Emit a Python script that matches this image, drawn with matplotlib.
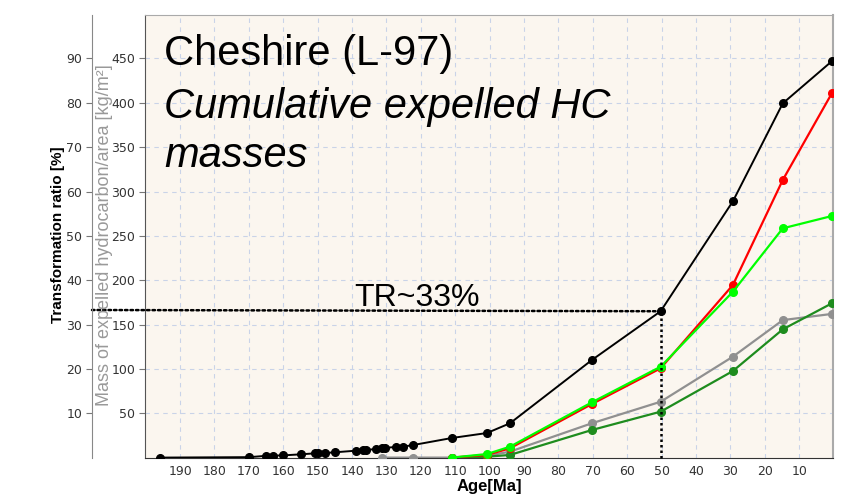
import numpy as np
import matplotlib.pyplot as plt

# ages [Ma] and cumulative expelled masses [kg/m2]
age_total = [195.8, 169.9, 165.0, 162.9, 160.0, 154.9, 150.8, 149.8, 147.8,
             144.9, 138.9, 136.7, 135.9, 133.0, 131.4, 130.4, 127.2, 125.1,
             122.2, 111.0, 100.8, 94.1, 70.3, 50.3, 29.3, 14.8, 0.5]
mass_total = [0.0, 0.5, 2.0, 2.2, 2.5, 3.7, 4.8, 4.9, 5.2,
              6.0, 7.8, 8.5, 8.6, 9.7, 10.5, 11.0, 12.0, 12.4,
              14.2, 22.1, 27.7, 38.7, 110.0, 165.0, 289.0, 399.4, 447.0]

age_gray = [131.4, 122.2, 111.0, 100.8, 94.1, 70.3, 50.3, 29.3, 14.8, 0.5]
mass_gray = [0, 0, 0, 2.0, 6.7, 38.7, 63.0, 113.8, 155.0, 162.0]

age_comp = [111.0, 100.8, 94.1, 70.3, 50.3, 29.3, 14.8, 0.5]
mass_red = [0, 3.0, 10.5, 60.4, 100.7, 194.6, 313.0, 411.0]
mass_lime = [0, 4.0, 12.3, 62.3, 102.5, 187.0, 258.5, 272.4]
mass_dgreen = [0, 1.0, 3.0, 31.1, 51.8, 97.6, 144.6, 174.0]

tr_age = 50.3
tr_mass = 165.0

fig = plt.figure(figsize=(8.57, 5.0), dpi=100)
ax = fig.add_axes([145/857, 1-457.6/500, 688/857, 442.6/500])
ax.set_facecolor("#FBF6EF")

ax.set_xlim(200.2, 0.2)
ax.set_ylim(0, 499)
ax.set_xticks(np.arange(10, 200, 10))
ax.set_yticks(np.arange(50, 500, 50))
ax.grid(True, color="#C9D3E8", linestyle=(0, (4, 4)), linewidth=0.8)
ax.set_axisbelow(True)
ax.tick_params(axis="x", length=0, pad=5, labelsize=9, labelcolor="#333333")
ax.tick_params(axis="y", length=4, width=0.8, color="#777777", pad=3,
               labelsize=9, labelcolor="#333333")
ax.spines["left"].set_color("#555555")
ax.spines["bottom"].set_color("#333333")
ax.spines["top"].set_color("#AAAAAA")
ax.spines["right"].set_color("#AAAAAA")
ax.spines["right"].set_linewidth(1.5)

ms = 5.5
ax.plot(age_gray, mass_gray, color="#909090", lw=1.6, marker="o", ms=ms, zorder=3)
ax.plot(age_comp, mass_dgreen, color="#1E8C1E", lw=1.6, marker="o", ms=ms, zorder=3)
ax.plot(age_comp, mass_red, color="#FF0000", lw=1.6, marker="o", ms=ms, zorder=4)
ax.plot(age_comp, mass_lime, color="#00FF00", lw=1.6, marker="o", ms=ms, zorder=4)
ax.plot(age_total, mass_total, color="black", lw=1.4, marker="o", ms=ms, zorder=5)

# TR~33% guide lines
ax.plot([tr_age, tr_age], [0, tr_mass], color="black", ls=(0, (1, 1.2)), lw=1.8,
        zorder=6, clip_on=False)
ax.annotate("", xy=(tr_age, tr_mass), xycoords="data",
            xytext=(92/857, 1-310/500), textcoords="figure fraction",
            arrowprops=dict(arrowstyle="-", color="black", ls=(0, (1, 1.2)),
                            lw=1.8, shrinkA=0, shrinkB=0), zorder=6)
fig.text(354/857, 1-306/500, "TR~33%", fontsize=23, family="Liberation Sans",
         va="baseline", ha="left")

ax.set_xlabel("Age[Ma]", fontsize=12, fontweight="bold", labelpad=1,
              family="Liberation Sans")

# transformation ratio axis, TR = mass / 5
ax2 = ax.twinx()
ax2.set_ylim(0, 499/5)
ax2.set_yticks(np.arange(10, 100, 10))
ax2.yaxis.tick_left()
ax2.yaxis.set_label_position("left")
ax2.spines["left"].set_position(("outward", 53*0.72))
ax2.spines["left"].set_color("#888888")
for s in ["right", "top", "bottom"]:
    ax2.spines[s].set_visible(False)
ax2.tick_params(axis="y", length=4, width=0.8, color="#777777", pad=3,
                labelsize=9, labelcolor="#333333")

fig.text(58/857, 1-235/500, "Transformation ratio [%]", rotation=90,
         fontsize=11, fontweight="bold", ha="center", va="center",
         family="Liberation Sans")
fig.text(105/857, 1-235/500, "Mass of expelled hydrocarbon/area [kg/m²]",
         rotation=90, fontsize=13, color="#999999", ha="center", va="center",
         family="Liberation Sans")

fig.text(164/857, 1-65/500, "Cheshire (L-97)", fontsize=30,
         family="Liberation Sans", va="baseline")
fig.text(164/857, 1-118/500, "Cumulative expelled HC", fontsize=30,
         style="italic", family="Liberation Sans", va="baseline")
fig.text(164/857, 1-167/500, "masses", fontsize=30,
         style="italic", family="Liberation Sans", va="baseline")

fig.savefig("out.png", dpi=100)
